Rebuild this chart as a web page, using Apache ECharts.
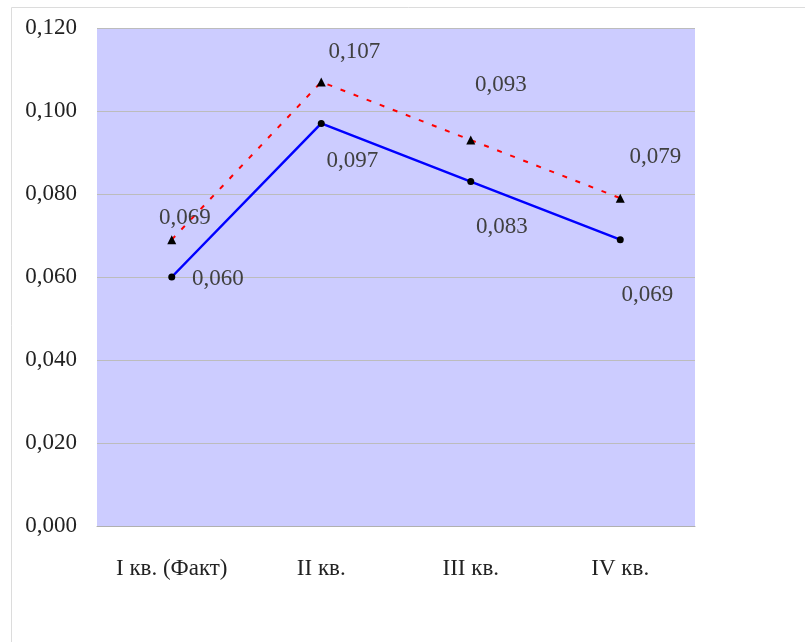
<!DOCTYPE html>
<html>
<head>
<meta charset="utf-8">
<script src="https://cdn.jsdelivr.net/npm/echarts@6/dist/echarts.min.js"></script>
<style>html,body{margin:0;padding:0;background:#fff}#c{width:805px;height:642px}</style>
</head>
<body>
<div id="c"></div>
<script>
var categories = ['I кв. (Факт)', 'II кв.', 'III кв.', 'IV кв.'];
var seriesSolid = [0.060, 0.097, 0.083, 0.069];
var seriesDashed = [0.069, 0.107, 0.093, 0.079];
var yTicks = [0, 0.02, 0.04, 0.06, 0.08, 0.10, 0.12];

var solidLabelOffsets = [[46, 2], [31, 38], [31, 45], [27, 55]];
var dashedLabelOffsets = [[13, -22], [33, -30], [30, -55], [35, -41]];

function fmt(v) { return v.toFixed(3).replace('.', ','); }
function mk(vals, offs) {
  return vals.map(function (v, i) {
    return { value: v, label: { offset: offs[i] } };
  });
}
var FONT = '"Liberation Serif", "DejaVu Serif", serif';
var chart = echarts.init(document.getElementById('c'));
chart.setOption({
  animation: false,
  backgroundColor: '#fff',
  graphic: [{
    type: 'rect', left: 9, top: 5, shape: { width: 900, height: 700 },
    style: { fill: 'none', stroke: '#dcdcdc', lineWidth: 1 }, silent: true, z: -10
  }],
  grid: { left: 97, right: 110, top: 28, bottom: 116, show: true, backgroundColor: '#ccccff', borderWidth: 0 },
  xAxis: {
    type: 'category', data: categories, boundaryGap: true,
    axisLine: { show: true, lineStyle: { color: '#b0b0b0', width: 1 } },
    axisTick: { show: false },
    axisLabel: { interval: 0, margin: 31, fontFamily: FONT, fontSize: 23, color: '#222' }
  },
  yAxis: {
    type: 'value', min: yTicks[0], max: yTicks[yTicks.length - 1], interval: 0.02,
    axisLine: { show: false }, axisTick: { show: false },
    splitLine: { lineStyle: { color: '#bcbcbc', width: 1 } },
    axisLabel: { margin: 20, fontFamily: FONT, fontSize: 23, color: '#222', formatter: fmt }
  },
  series: [{
    type: 'line', data: mk(seriesDashed, dashedLabelOffsets),
    symbol: 'triangle', symbolSize: 9,
    itemStyle: { color: '#000' },
    lineStyle: { color: '#ff0000', width: 2, type: [5, 9] },
    label: { show: true, position: 'inside', formatter: function (p) { return fmt(p.value); },
      fontFamily: FONT, fontSize: 23, color: '#404040' }
  }, {
    type: 'line', data: mk(seriesSolid, solidLabelOffsets),
    symbol: 'circle', symbolSize: 7,
    itemStyle: { color: '#000' },
    lineStyle: { color: '#0000ff', width: 2.5 },
    label: { show: true, position: 'inside', formatter: function (p) { return fmt(p.value); },
      fontFamily: FONT, fontSize: 23, color: '#404040' }
  }]
});
</script>
</body>
</html>
